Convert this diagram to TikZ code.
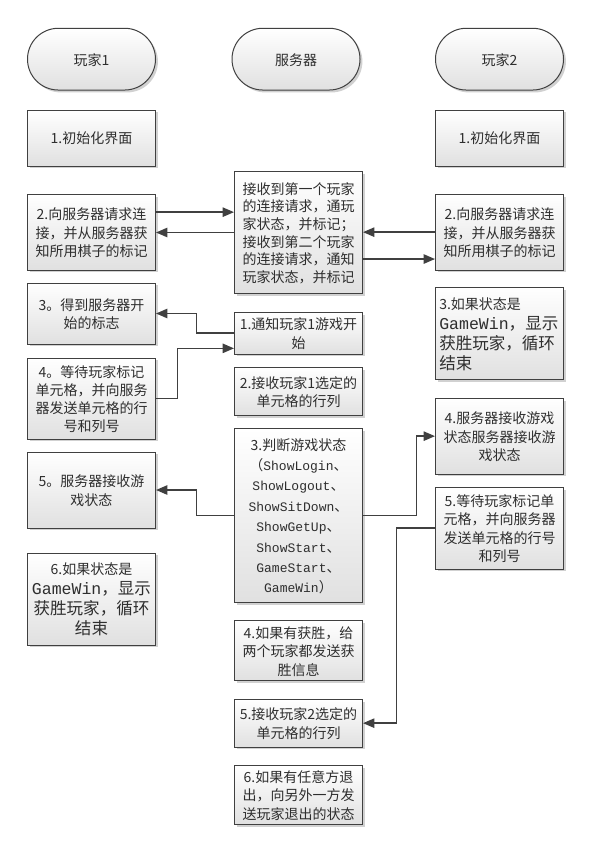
\documentclass[tikz,border=0pt]{standalone}
\usepackage{fontspec}
\newfontfamily\cjk{Noto Sans CJK SC}
\newfontfamily\monof{Liberation Mono}
\usetikzlibrary{shadows,calc,arrows.meta}
\newcommand{\mo}[1]{{\monof\fontsize{9.75}{15.3}\selectfont #1}}
\newcommand{\mob}[1]{{\monof\fontsize{12.4}{15}\selectfont #1}}
\newcommand{\sml}[1]{{\fontsize{10.5}{15}\selectfont #1}}
\begin{document}
\begin{tikzpicture}[x=0.75pt,y=-0.75pt,
  txt/.style={inner sep=0pt, font=\cjk\fontsize{10.5}{13.7}\selectfont, align=center, text=black!82,
    execute at begin node={\rule{0pt}{0.8em}}, text depth=0pt},
  box/.style={txt, draw=black!75, line width=0.75pt, top color=white, bottom color=black!12,
    drop shadow={shadow xshift=1.8pt, shadow yshift=-1.8pt, fill=black!18, opacity=1},
    minimum width=96pt},
  sz/.style={minimum height=#1},
  term/.style={box, rounded corners=23.1pt, minimum height=46.3pt},
  bigtxt/.style={font=\cjk\fontsize{12.4}{15}\selectfont},
  arr/.style={draw=black!75, line width=1.1pt, -{Triangle[length=8.5pt,width=7pt]}},
]
\fill[white] (0,0) rectangle (598,849);
\useasboundingbox (0,0) rectangle (598,849);

% headers
\node[term] (h1) at (91.5,59.15) {玩家1};
\node[term] (h2) at (296,59.15) {服务器};
\node[term] (h3) at (499.5,59.15) {玩家2};

% left column
\node[box, sz=42pt] (l1) at (91.5,138) {1.初始化界面};
\node[box, sz=56.8pt] (l2) at (91.5,232.15) {2.向服务器请求连\\接，并从服务器获\\知所用棋子的标记};
\node[box, sz=45.75pt] (l3) at (91.5,313.5) {3。得到服务器开\\始的标志};
\node[box, sz=60.75pt] (l4) at (91.5,398.5) {4。等待玩家标记\\单元格，并向服务\\器发送单元格的行\\号和列号};
\node[box, sz=57pt] (l5) at (91.5,490) {5。服务器接收游\\戏状态};
\node[box, bigtxt, sz=69pt] (l6) at (91.5,599) {\sml{6.如果状态是}\\\mob{GameWin}，显示\\获胜玩家，循环\\结束};

% middle column
\node[box, font=\cjk\fontsize{10.5}{13.25}\selectfont, sz=91.2pt] (m1) at (298.5,232.5) {接收到第一个玩家\\的连接请求，通玩\\家状态，并标记；\\接收到第二个玩家\\的连接请求，通知\\玩家状态，并标记};
\node[box, sz=31.3pt] (m2) at (298.5,333.15) {1.通知玩家1游戏开\\始};
\node[box, sz=36.2pt] (m3) at (298.5,391.85) {2.接收玩家1选定的\\单元格的行列};
\node[box, font=\cjk\fontsize{10.5}{15.3}\selectfont, sz=130.8pt] (m4) at (298.5,515.5) {3.判断游戏状态\\（\mo{ShowLogin}、\\\mo{ShowLogout}、\\\mo{ShowSitDown}、\\\mo{ShowGetUp}、\\\mo{ShowStart}、\\\mo{GameStart}、\\\mo{GameWin}）};
\node[box, sz=45.2pt] (m5) at (298.5,650.85) {4.如果有获胜，给\\两个玩家都发送获\\胜信息};
\node[box, sz=35.8pt] (m6) at (298.5,723.15) {5.接收玩家2选定的\\单元格的行列};
\node[box, sz=44pt] (m7) at (298.5,795) {6.如果有任意方退\\出，向另外一方发\\送玩家退出的状态};

% right column
\node[box, sz=42pt] (r1) at (499.5,138) {1.初始化界面};
\node[box, sz=56.8pt] (r2) at (499.5,232.15) {2.向服务器请求连\\接，并从服务器获\\知所用棋子的标记};
\node[box, sz=69pt] (r3) at (499.5,333.3) {};
\node[txt, bigtxt, align=left, anchor=west] (r3t) at ([xshift=3pt]r3.west) {\sml{3.如果状态是}\\\mob{GameWin}，显示\\获胜玩家，循环\\结束};
\node[box, sz=56.8pt] (r4) at (499.5,436.15) {4.服务器接收游戏\\状态服务器接收游\\戏状态};
\node[box, sz=61.3pt] (r5) at (499.5,528.15) {5.等待玩家标记单\\元格，并向服务器\\发送单元格的行号\\和列号};

% connectors
\coordinate (c1) at ([yshift=15pt]l2.east);
\draw[arr] (c1) -- (c1 -| m1.west);
\draw[arr] (m1.west) -- (m1.west -| l2.east);
\coordinate (c3) at ([yshift=-19.9pt]m1.east);
\draw[arr] (c3) -- (c3 -| r2.west);
\draw[arr] (r2.west) -- (r2.west -| m1.east);
\draw[arr] (m2.west) -- ++(-37.5,0) |- (l3.east);
\coordinate (c6) at ([yshift=-11.4pt]m2.west);
\draw[arr] (l4.east) -- ++(21.6,0) |- (c6);
\draw[arr] (m4.west) -- ++(-37.6,0) |- (l5.east);
\draw[arr] (m4.east) -- ++(53.3,0) |- (r4.west);
\draw[arr] (r5.west) -- ++(-38.4,0) |- (m6.east);
\end{tikzpicture}
\end{document}
